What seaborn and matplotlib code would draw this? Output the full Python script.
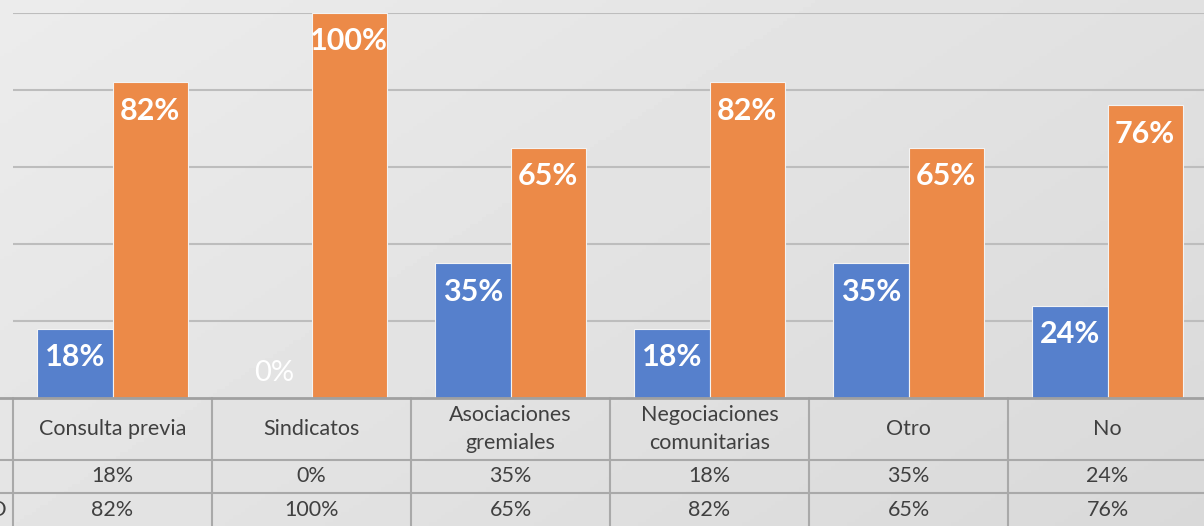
import numpy as np
import pandas as pd
import matplotlib
matplotlib.use("Agg")
import matplotlib.pyplot as plt
import matplotlib.transforms as mtransforms
import seaborn as sns

categories = ["Consulta previa", "Sindicatos", "Asociaciones\ngremiales",
              "Negociaciones\ncomunitarias", "Otro", "No"]
serie_si = [0.18, 0.00, 0.35, 0.18, 0.35, 0.24]
serie_no = [0.82, 1.00, 0.65, 0.82, 0.65, 0.76]
series_names = ["SI", "NO"]
row_labels = ["", "NO"]

sns.set_theme(style="white")
plt.rcParams['font.family'] = ['Lato', 'DejaVu Sans']

W, H = 1204, 526
fig = plt.figure(figsize=(W / 100, H / 100), dpi=100)

# background gradient
bg = fig.add_axes([0, 0, 1, 1], zorder=-10)
xx, yy = np.meshgrid(np.linspace(0, 1, 300), np.linspace(0, 1, 150))
grad = 0.925 - 0.075 * (0.6 * xx + 0.4 * yy)
bg.imshow(grad, cmap="gray", vmin=0, vmax=1, aspect="auto", extent=[0, 1, 0, 1], origin="upper")
bg.set_axis_off()

df = pd.DataFrame({
    "cat": categories * 2,
    "serie": [series_names[0]] * 6 + [series_names[1]] * 6,
    "val": serie_si + serie_no,
})

ax = fig.add_axes([13 / W, 128 / H, 1194 / W, 385 / H])
ax.patch.set_alpha(0)
sns.barplot(data=df, x="cat", y="val", hue="serie", order=categories,
            hue_order=series_names, palette=["#5680cc", "#ec8a48"],
            width=0.754, gap=0, dodge=True, ax=ax, legend=False,
            edgecolor="#f3f3f3", linewidth=0.8, saturation=1, errorbar=None, zorder=3)
ax.set_ylim(0, 1.0)
ax.set_xlim(-0.5, 5.5)
for s in ax.spines.values():
    s.set_visible(False)
ax.set_xticks([])
ax.set_yticks([0.2, 0.4, 0.6, 0.8, 1.0])
ax.set_yticklabels([])
ax.tick_params(left=False, bottom=False)
ax.set_xlabel("")
ax.set_ylabel("")
for g in [0.2, 0.4, 0.6, 0.8, 1.0]:
    ax.axhline(g, color="#bdbdbd", lw=1.5, zorder=1)

# data labels
for container in ax.containers:
    for bar in container:
        v = bar.get_height()
        xc = bar.get_x() + bar.get_width() / 2
        if v > 0:
            ax.annotate(f"{v*100:.0f}%", (xc, v), xytext=(0, -20.5), textcoords="offset points",
                        ha="center", va="center", color="white", fontsize=22, fontweight="bold", zorder=5)
        else:
            ax.annotate(f"{v*100:.0f}%", (xc, v), xytext=(0, 18), textcoords="offset points",
                        ha="center", va="center", color="white", fontsize=21, zorder=5)

# data table (y in axes fraction from pixel rows)
def ay(py):
    return (398 - py) / 385

trans = mtransforms.blended_transform_factory(ax.transData, ax.transAxes)
line_c = "#a9a9a9"
ax.plot([-0.6, 5.6], [ay(398), ay(398)], transform=trans, color="#a0a0a0", lw=2, clip_on=False, zorder=4)
for py in [460, 493]:
    ax.plot([-0.6, 5.6], [ay(py), ay(py)], transform=trans, color=line_c, lw=1.5, clip_on=False)
for i in range(7):
    xb = i - 0.5
    ax.plot([xb, xb], [ay(398), ay(530)], transform=trans, color=line_c, lw=1.5, clip_on=False)

txt_c = "#404040"
for i, c in enumerate(categories):
    ax.text(i, ay(429), c, transform=trans, ha="center", va="center", fontsize=15.5,
            color=txt_c, linespacing=1.55, clip_on=False)
    ax.text(i, ay(476.5), f"{serie_si[i]*100:.0f}%", transform=trans, ha="center", va="center",
            fontsize=15.5, color=txt_c, clip_on=False)
    ax.text(i, ay(509.5), f"{serie_no[i]*100:.0f}%", transform=trans, ha="center", va="center",
            fontsize=15.5, color=txt_c, clip_on=False)

# partially visible row label at left edge
fig.text(7 / W, (H - 509.5) / H, row_labels[1], ha="right", va="center", fontsize=15.5, color=txt_c)

fig.savefig("out.png", dpi=100)
